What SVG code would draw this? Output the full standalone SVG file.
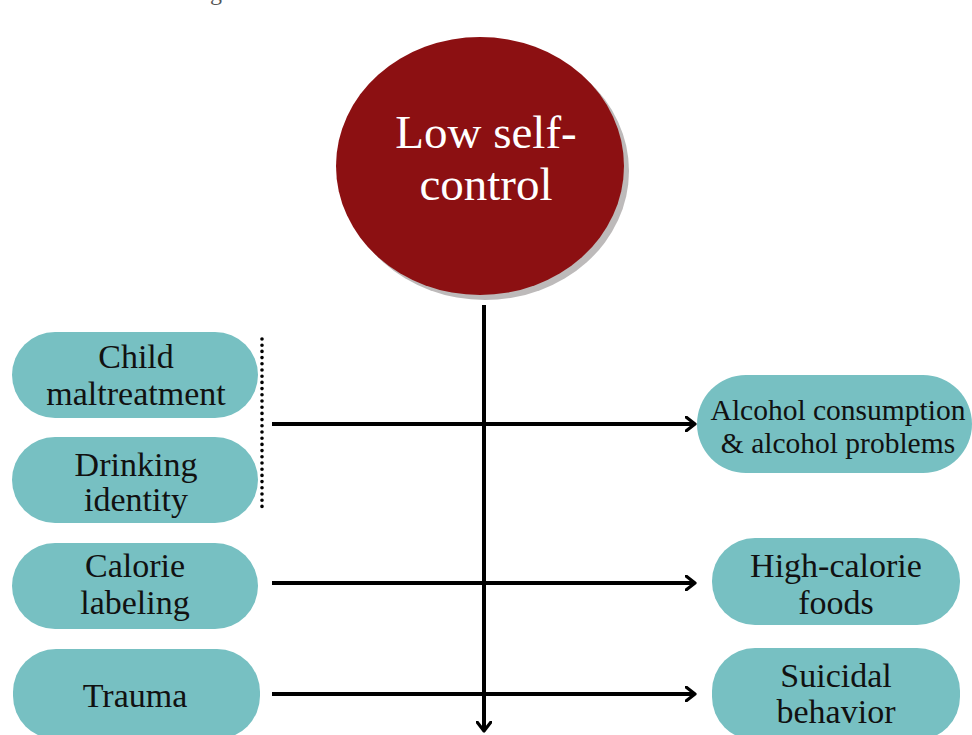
<svg xmlns="http://www.w3.org/2000/svg" width="972" height="735" viewBox="0 0 972 735">
  <style>
    .pill { fill: #77c0c2; }
    .lbl { font-family: "Liberation Serif", "Times New Roman", serif; font-size: 34px; fill: #111; text-anchor: middle; }
    .lbl-sm { font-family: "Liberation Serif", "Times New Roman", serif; font-size: 29.5px; fill: #111; text-anchor: middle; }
    .hub { font-family: "Liberation Serif", "Times New Roman", serif; font-size: 47px; fill: #fff; text-anchor: middle; }
    .wire { stroke: #000; stroke-width: 4; fill: none; }
    .caption { font-family: "Liberation Serif", "Times New Roman", serif; font-size: 24px; fill: #555; }
  </style>
  <defs>
    <marker id="chev" viewBox="0 0 12 16" refX="10" refY="8" markerWidth="12" markerHeight="16" markerUnits="userSpaceOnUse" orient="auto">
      <path d="M1,1 L10,8 L1,15" fill="none" stroke="#000" stroke-width="3.2" stroke-linecap="round" stroke-linejoin="round"/>
    </marker>
  </defs>
  <rect width="972" height="735" fill="#fff"/>

  <!-- caption line running off the top edge -->
  <text class="caption" x="70" y="0">as a moderating variable</text>

  <!-- central construct -->
  <g id="low-self-control">
    <ellipse cx="485" cy="171" rx="144" ry="129" fill="#bdbaba"/>
    <ellipse cx="480" cy="166" rx="144" ry="129" fill="#8c1012"/>
    <text class="hub" x="486" y="148">Low self-</text>
    <text class="hub" x="486" y="200">control</text>
  </g>

  <!-- connectors -->
  <g id="connectors">
    <line class="wire" x1="484" y1="305" x2="484" y2="731" marker-end="url(#chev)"/>
    <line class="wire" x1="272" y1="424" x2="695" y2="424" marker-end="url(#chev)"/>
    <line class="wire" x1="272" y1="583" x2="695" y2="583" marker-end="url(#chev)"/>
    <line class="wire" x1="272" y1="694" x2="695" y2="694" marker-end="url(#chev)"/>
    <line x1="262" y1="339" x2="262" y2="507" stroke="#000" stroke-width="3.6" stroke-linecap="round" stroke-dasharray="0 6.2"/>
  </g>

  <!-- predictors -->
  <g id="child-maltreatment">
    <rect class="pill" x="12" y="332" width="246" height="86" rx="43"/>
    <text class="lbl" x="136" y="368">Child</text>
    <text class="lbl" x="136" y="405">maltreatment</text>
  </g>
  <g id="drinking-identity">
    <rect class="pill" x="12" y="437" width="246" height="86" rx="43"/>
    <text class="lbl" x="136" y="476">Drinking</text>
    <text class="lbl" x="136" y="511">identity</text>
  </g>
  <g id="calorie-labeling">
    <rect class="pill" x="12" y="543" width="246" height="86" rx="43"/>
    <text class="lbl" x="135" y="577">Calorie</text>
    <text class="lbl" x="135" y="614">labeling</text>
  </g>
  <g id="trauma">
    <rect class="pill" x="13" y="649" width="247" height="90" rx="43"/>
    <text class="lbl" x="135" y="707">Trauma</text>
  </g>

  <!-- outcomes -->
  <g id="alcohol">
    <rect class="pill" x="697" y="375" width="275" height="98" rx="49"/>
    <text class="lbl-sm" x="838" y="420">Alcohol consumption</text>
    <text class="lbl-sm" x="838" y="453">&amp; alcohol problems</text>
  </g>
  <g id="high-calorie-foods">
    <rect class="pill" x="712" y="538" width="248" height="87" rx="43"/>
    <text class="lbl" x="836" y="577">High-calorie</text>
    <text class="lbl" x="836" y="614">foods</text>
  </g>
  <g id="suicidal-behavior">
    <rect class="pill" x="712" y="648" width="248" height="92" rx="43"/>
    <text class="lbl" x="836" y="687">Suicidal</text>
    <text class="lbl" x="836" y="723">behavior</text>
  </g>
</svg>
